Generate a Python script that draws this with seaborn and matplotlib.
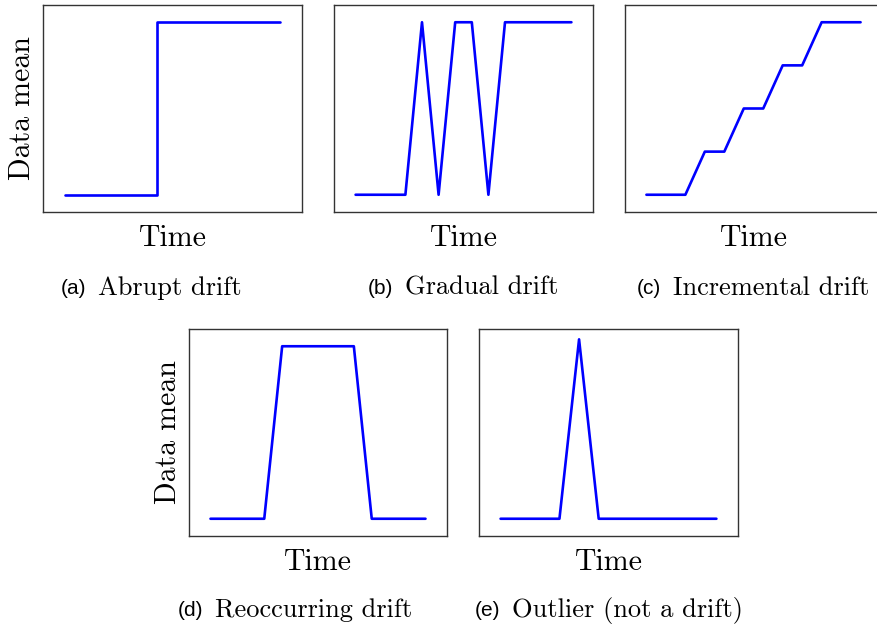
import matplotlib
matplotlib.use("Agg")
import matplotlib.pyplot as plt
import seaborn as sns
import pandas as pd

# drift shapes (time step, data mean)
abrupt_t = [0, 3, 3, 7]
abrupt_y = [0, 0, 1, 1]
gradual_t = [0, 3, 4, 5, 6, 7, 8, 9, 13]
gradual_y = [0, 0, 1, 0, 1, 1, 0, 1, 1]
incr_t = [0, 2, 3, 4, 5, 6, 7, 8, 9, 11]
incr_y = [0, 0, 0.25, 0.25, 0.5, 0.5, 0.75, 0.75, 1, 1]
reocc_t = [0, 3, 4, 8, 9, 12]
reocc_y = [0, 0, 1, 1, 0, 0]
outlier_t = [0, 3, 4, 5, 11]
outlier_y = [0, 0, 1.04, 0, 0]

letters = ["(a)", "(b)", "(c)", "(d)", "(e)"]
captions = ["Abrupt drift", "Gradual drift", "Incremental drift",
            "Reoccurring drift", "Outlier (not a drift)"]

sns.set_style("white")
plt.rcParams["font.family"] = ["cmr10", "DejaVu Serif"]
plt.rcParams["axes.formatter.use_mathtext"] = True
plt.rcParams["text.color"] = "black"
plt.rcParams["axes.labelcolor"] = "black"

W, H = 877, 628
fig = plt.figure(figsize=(W / 100, H / 100), dpi=100)

# axes boxes in pixels: left, top, right, bottom
boxes = [(43, 5, 302, 212), (334, 5, 593, 212), (625, 5, 882, 212),
         (189, 329, 447, 536), (479, 329, 738, 536)]
series = [(abrupt_t, abrupt_y), (gradual_t, gradual_y), (incr_t, incr_y),
          (reocc_t, reocc_y), (outlier_t, outlier_y)]
# caption text left edge and vertical centre (pixels)
cap_pos = [(98, 288), (405, 288), (673, 288), (215, 610), (512, 610)]

for i, ((l, t, r, b), (xs, ys)) in enumerate(zip(boxes, series)):
    ax = fig.add_axes([l / W, 1 - b / H, (r - l) / W, (b - t) / H])
    df = pd.DataFrame({"t": xs, "y": ys})
    sns.lineplot(data=df, x="t", y="y", ax=ax, estimator=None, sort=False,
                 color="#0000ff", linewidth=1.9)
    span = max(xs) - min(xs)
    ax.set_xlim(min(xs) - 0.1 * span, max(xs) + 0.1 * span)
    ax.set_ylim(-0.1, 1.1)
    ax.set_xticks([])
    ax.set_yticks([])
    for s in ax.spines.values():
        s.set_color("#333333")
        s.set_linewidth(1.0)
    ax.set_xlabel("Time", fontsize=21.5, labelpad=9)
    if i in (0, 3):
        ax.set_ylabel("Data mean", fontsize=21.5, labelpad=5)
    else:
        ax.set_ylabel("")

    cx, cy = cap_pos[i]
    fig.text(cx / W, 1 - cy / H, captions[i], fontsize=19, ha="left", va="center")
    fig.text((cx - 12) / W, 1 - cy / H, letters[i], fontsize=15, ha="right",
             va="center", family="Liberation Sans")

fig.savefig("out.png", dpi=100)
